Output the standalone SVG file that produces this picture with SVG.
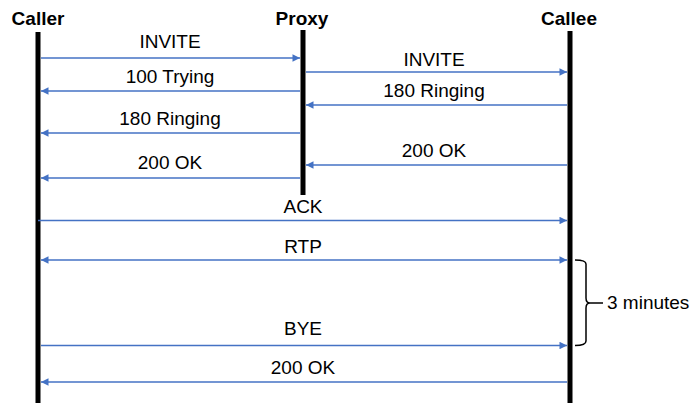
<svg xmlns="http://www.w3.org/2000/svg" width="695" height="403" viewBox="0 0 695 403">
  <defs>
    <marker id="arrow" viewBox="0 0 10 10" refX="10" refY="5" markerWidth="6" markerHeight="5" markerUnits="strokeWidth" orient="auto-start-reverse">
      <path d="M0,0 L10,5 L0,10 z" fill="#4472C4"/>
    </marker>
  </defs>
  <style>
    .title { font-family: "Liberation Sans", Arial, sans-serif; font-weight: bold; font-size: 19px; fill: #000; text-anchor: middle; }
    .label { font-family: "Liberation Sans", Arial, sans-serif; font-size: 19px; fill: #000; text-anchor: middle; }
    .note { font-family: "Liberation Sans", Arial, sans-serif; font-size: 19px; fill: #000; }
    .life { fill: #000; }
    .msg { stroke: #4472C4; stroke-width: 1.5; fill: none; marker-end: url(#arrow); }
    .both { marker-start: url(#arrow); }
  </style>
  <rect width="695" height="403" fill="#fff"/>

  <g id="caller">
    <text class="title" x="38" y="25">Caller</text>
    <rect class="life" x="35.5" y="32" width="5" height="371"/>
  </g>
  <g id="proxy">
    <text class="title" x="302" y="25">Proxy</text>
    <rect class="life" x="300.5" y="30" width="5" height="165"/>
  </g>
  <g id="callee">
    <text class="title" x="569" y="25">Callee</text>
    <rect class="life" x="567.5" y="31" width="5" height="372"/>
  </g>

  <g id="connectors">
    <line class="msg" x1="41" y1="58" x2="300" y2="58"/>
    <line class="msg" x1="300" y1="91" x2="41" y2="91"/>
    <line class="msg" x1="300" y1="133" x2="41" y2="133"/>
    <line class="msg" x1="300" y1="178" x2="41" y2="178"/>
    <line class="msg" x1="306" y1="72" x2="567" y2="72"/>
    <line class="msg" x1="567" y1="105" x2="306" y2="105"/>
    <line class="msg" x1="567" y1="165" x2="306" y2="165"/>
    <line class="msg" x1="38" y1="220.5" x2="567" y2="220.5"/>
    <line class="msg both" x1="41" y1="260" x2="567" y2="260"/>
    <line class="msg" x1="41" y1="345.5" x2="567" y2="345.5"/>
    <line class="msg" x1="567" y1="382" x2="41" y2="382"/>
  </g>

  <g id="labels">
    <text class="label" x="170" y="48">INVITE</text>
    <text class="label" x="170" y="83">100 Trying</text>
    <text class="label" x="170" y="125">180 Ringing</text>
    <text class="label" x="170" y="169">200 OK</text>
    <text class="label" x="434" y="66">INVITE</text>
    <text class="label" x="434" y="97">180 Ringing</text>
    <text class="label" x="434" y="157">200 OK</text>
    <text class="label" x="303" y="213">ACK</text>
    <text class="label" x="303" y="253">RTP</text>
    <text class="label" x="303" y="335">BYE</text>
    <text class="label" x="303" y="374">200 OK</text>
  </g>

  <g id="duration">
    <path d="M575,260 Q586,260 586,264 L586,298 Q586,303 590,303 L603,303 M590,303 Q586,303 586,308 L586,341 Q586,345.5 575,345.5" fill="none" stroke="#000" stroke-width="1.5"/>
    <text class="note" x="607" y="309">3 minutes</text>
  </g>
</svg>
